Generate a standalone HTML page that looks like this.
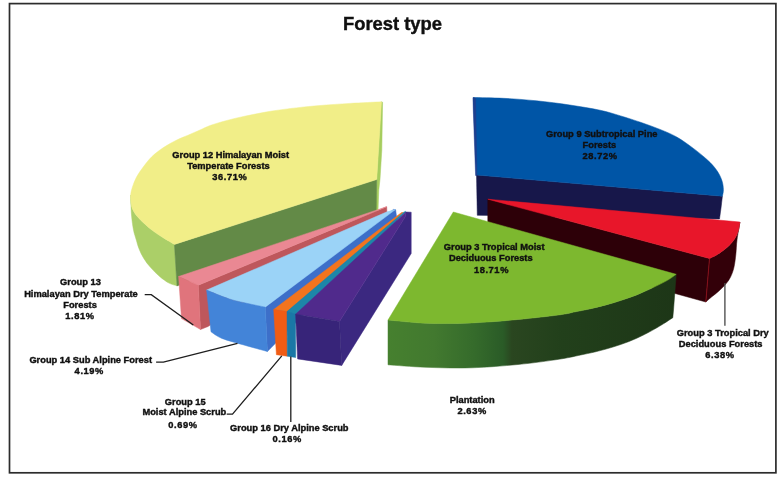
<!DOCTYPE html>
<html><head><meta charset="utf-8"><title>Forest type</title>
<style>
html,body{margin:0;padding:0;background:#fff;width:782px;height:479px;overflow:hidden}
svg{position:absolute;left:0;top:0;display:block;filter:blur(0.35px)}
polygon,path{stroke-width:0.5px;stroke-linejoin:round}
text{font-family:"Liberation Sans",sans-serif;font-weight:bold;fill:#101010;stroke:#101010;stroke-width:0.4px}
</style></head><body>
<svg width="782" height="479" viewBox="0 0 782 479">
<defs>
<linearGradient id="gdk" x1="388" y1="0" x2="676" y2="0" gradientUnits="userSpaceOnUse">
<stop offset="0" stop-color="#46802f"/><stop offset="0.16" stop-color="#42792f"/><stop offset="0.3" stop-color="#356b2b"/><stop offset="0.4" stop-color="#2a5b27"/><stop offset="0.43" stop-color="#2a4620"/><stop offset="0.6" stop-color="#22401b"/><stop offset="1" stop-color="#1d3617"/>
</linearGradient>
</defs>
<rect x="9.5" y="3.6" width="766.4" height="469.2" fill="none" stroke="#2c2c2c" stroke-width="1.7"/>
<polygon points="381.2,101.8 382.6,102.2 381.8,150.0 380.0,179.3 378.8,190.0 378.0,211.0 375.8,211.0 376.7,179.5" fill="#a6cd5e" stroke="#a6cd5e"/>
<path d="M174.4,244.4 L177.0,285.9 C175.7,285.4 171.8,284.6 169.0,283.1 C166.2,281.6 163.0,279.3 159.9,276.7 C156.8,274.1 153.4,270.7 150.7,267.6 C148.0,264.6 145.7,261.5 143.8,258.4 C141.9,255.3 140.4,252.3 139.2,249.2 C137.9,246.1 137.2,243.2 136.3,240.0 C135.4,236.8 134.3,234.2 133.5,230.0 C132.7,225.8 132.0,220.8 131.5,215.0 C131.0,209.2 130.8,198.3 130.7,195.0 C130.8,196.5 130.9,201.7 131.3,204.2 C131.7,206.7 131.9,207.8 133.0,209.9 C134.1,212.0 135.7,214.5 137.6,216.8 C139.5,219.1 142.0,221.4 144.5,223.7 C147.0,226.0 149.5,228.3 152.6,230.6 C155.7,232.9 159.3,235.2 162.9,237.5 C166.5,239.8 172.5,243.2 174.4,244.4 Z" fill="#abcf68" stroke="#abcf68"/>
<polygon points="174.4,244.4 376.7,179.5 376.2,212.0 177.0,285.9" fill="#638a47" stroke="#638a47"/>
<path d="M376.7,179.5 L381.5,101.8 C376.2,102.1 360.2,102.8 350.0,103.4 C339.8,104.0 328.3,104.8 320.0,105.5 C311.7,106.2 305.4,106.8 300.0,107.4 C294.6,108.0 292.0,108.3 287.4,108.9 C282.8,109.5 277.2,110.2 272.1,111.0 C267.0,111.8 261.8,112.8 256.7,113.8 C251.6,114.8 246.5,115.8 241.4,116.9 C236.3,118.1 231.1,119.3 226.0,120.7 C220.9,122.1 215.0,123.8 210.7,125.3 C206.4,126.8 203.7,128.4 200.0,130.0 C196.3,131.6 192.4,133.3 188.5,135.0 C184.6,136.7 181.0,137.9 176.8,140.0 C172.6,142.1 167.6,144.8 163.4,147.6 C159.2,150.4 155.0,153.6 151.7,156.8 C148.4,160.0 145.9,163.5 143.4,166.8 C140.9,170.1 138.5,173.5 136.7,176.8 C134.9,180.1 133.5,183.8 132.5,186.8 C131.5,189.8 130.9,192.1 130.7,195.0 C130.5,197.9 130.9,201.7 131.3,204.2 C131.7,206.7 131.9,207.8 133.0,209.9 C134.1,212.0 135.7,214.5 137.6,216.8 C139.5,219.1 142.0,221.4 144.5,223.7 C147.0,226.0 149.5,228.3 152.6,230.6 C155.7,232.9 159.3,235.2 162.9,237.5 C166.5,239.8 172.5,243.2 174.4,244.4 Z" fill="#f1ee88" stroke="#f1ee88"/>
<polygon points="476.5,175.0 722.4,196.2 721.0,208.0 719.5,219.0 477.3,215.3" fill="#17174a" stroke="#17174a"/>
<path d="M476.5,175.0 L473.3,97.5 C478.3,97.6 492.8,97.8 503.3,98.3 C513.8,98.8 525.4,99.7 536.5,100.8 C547.6,101.9 559.2,103.4 569.8,105.0 C580.4,106.6 591.5,108.4 600.0,110.2 C608.5,112.0 613.8,113.9 620.7,115.9 C627.6,118.0 634.7,120.2 641.2,122.5 C647.8,124.8 654.1,127.0 660.0,129.4 C665.9,131.8 671.1,133.8 676.7,137.0 C682.3,140.2 688.3,144.6 693.4,148.4 C698.5,152.2 703.6,156.4 707.5,160.0 C711.4,163.6 714.1,166.6 716.5,170.0 C718.9,173.4 720.8,177.2 721.9,180.5 C723.0,183.8 723.3,186.9 723.4,189.5 C723.5,192.1 722.6,195.1 722.4,196.2 Z" fill="#0055a6" stroke="#0055a6"/>
<polygon points="473.0,97.6 475.6,98.2 476.9,175.5 475.6,175.5 473.3,110.0" fill="#1e3f8e" stroke="#1e3f8e"/>
<polygon points="487.8,199.2 709.5,258.5 705.8,302.0 487.8,241.6" fill="#2d0008" stroke="#2d0008"/>
<path d="M739.9,222.0 C739.6,223.4 739.2,227.7 738.4,230.4 C737.6,233.2 736.4,236.0 734.9,238.5 C733.4,241.0 731.3,243.3 729.2,245.4 C727.1,247.5 724.4,249.6 722.2,251.2 C720.0,252.8 718.3,254.0 716.2,255.2 C714.1,256.4 710.6,257.9 709.5,258.5 L705.8,302.0 C706.8,301.1 709.6,298.6 711.8,296.8 C713.9,295.0 716.4,293.3 718.7,291.2 C721.0,289.1 723.7,286.6 725.6,284.3 C727.5,282.0 729.0,280.1 730.4,277.3 C731.8,274.5 733.0,271.5 733.9,267.6 C734.8,263.7 735.4,258.4 735.9,253.8 C736.4,249.2 736.3,245.3 737.0,240.0 C737.7,234.7 739.4,225.0 739.9,222.0 Z" fill="#330009" stroke="#330009"/>
<line x1="709.5" y1="258.5" x2="705.8" y2="302" stroke="#9a0f1a" stroke-width="0.8"/>
<path d="M487.8,199.2 L739.9,222.0 C739.6,223.4 739.2,227.7 738.4,230.4 C737.6,233.2 736.4,236.0 734.9,238.5 C733.4,241.0 731.3,243.3 729.2,245.4 C727.1,247.5 724.4,249.6 722.2,251.2 C720.0,252.8 718.3,254.0 716.2,255.2 C714.1,256.4 710.6,257.9 709.5,258.5 Z" fill="#e8162a" stroke="#e8162a"/>
<path d="M388.0,320.0 L388.0,364.8 C394.3,365.2 412.0,366.8 426.0,367.3 C440.0,367.8 456.7,368.3 472.0,367.8 C487.3,367.3 503.3,365.9 518.0,364.5 C532.7,363.1 549.2,360.8 560.0,359.1 C570.8,357.4 576.6,355.8 583.0,354.5 C589.4,353.2 593.3,352.4 598.4,351.1 C603.5,349.8 608.6,348.4 613.7,346.8 C618.8,345.2 623.9,343.5 629.0,341.5 C634.1,339.5 639.3,337.2 644.4,334.6 C649.5,332.0 655.0,328.9 659.7,326.1 C664.4,323.3 670.6,319.1 672.8,317.7 L673.5,310.0 L676.2,274.3 C674.7,275.3 671.4,278.0 667.4,280.3 C663.4,282.6 657.2,285.6 652.1,288.0 C647.0,290.4 641.8,292.8 636.7,294.9 C631.6,296.9 626.5,298.6 621.4,300.3 C616.3,302.0 611.1,303.5 606.0,304.9 C600.9,306.3 595.8,307.5 590.7,308.7 C585.6,309.9 580.4,310.8 575.3,311.8 C570.2,312.8 569.5,313.5 560.0,314.8 C550.5,316.1 532.7,318.1 518.0,319.5 C503.3,320.9 487.3,322.3 472.0,322.9 C456.7,323.5 440.0,323.7 426.0,323.2 C412.0,322.7 394.3,320.5 388.0,320.0 Z" fill="url(#gdk)" stroke="url(#gdk)"/>
<path d="M453.3,212.0 L676.2,274.3 C674.7,275.3 671.4,278.0 667.4,280.3 C663.4,282.6 657.2,285.6 652.1,288.0 C647.0,290.4 641.8,292.8 636.7,294.9 C631.6,296.9 626.5,298.6 621.4,300.3 C616.3,302.0 611.1,303.5 606.0,304.9 C600.9,306.3 595.8,307.5 590.7,308.7 C585.6,309.9 580.4,310.8 575.3,311.8 C570.2,312.8 569.5,313.5 560.0,314.8 C550.5,316.1 532.7,318.1 518.0,319.5 C503.3,320.9 487.3,322.3 472.0,322.9 C456.7,323.5 440.0,323.7 426.0,323.2 C412.0,322.7 394.3,320.5 388.0,320.0 Z" fill="#7db82f" stroke="#7db82f"/>
<polygon points="198.3,285.2 386.7,206.7 386.9,212.8 208.0,326.5 200.5,329.5" fill="#be575c" stroke="#be575c"/>
<polygon points="178.6,276.5 386.7,206.7 198.3,285.2" fill="#ea8893" stroke="#ea8893"/>
<polygon points="178.6,276.5 198.3,285.2 200.5,329.5 181.5,318.6" fill="#e0747c" stroke="#e0747c"/>
<polygon points="265.3,307.1 393.5,209.4 395.6,209.6 397.0,220.0 267.4,351.5" fill="#3d6fc9" stroke="#3d6fc9"/>
<path d="M206.6,290.1 L387.0,211.8 L395.4,209.6 L265.3,307.1 C262.2,306.5 252.8,304.7 246.8,303.3 C240.8,301.9 235.9,301.1 229.2,298.9 C222.5,296.7 210.4,291.6 206.6,290.1 Z" fill="#9bd3f7" stroke="#9bd3f7"/>
<path d="M206.6,290.1 C210.4,291.6 222.5,296.7 229.2,298.9 C235.9,301.1 240.8,301.9 246.8,303.3 C252.8,304.7 262.2,306.5 265.3,307.1 L267.4,351.5 C263.5,350.4 251.5,347.2 243.9,345.0 C236.3,342.8 227.4,340.6 221.9,338.4 C216.4,336.2 212.8,332.9 211.0,331.8 Z" fill="#4384d8" stroke="#4384d8"/>
<polygon points="273.7,309.5 401.5,212.6 403.5,212.4 287.0,311.6" fill="#f2741e" stroke="#f2741e"/>
<polygon points="273.7,309.5 287.0,311.6 287.3,356.2 276.4,354.7" fill="#f05c14" stroke="#f05c14"/>
<polygon points="287.0,311.6 403.5,212.4 405.4,211.3 406.0,212.0 295.6,314.2" fill="#1d86a8" stroke="#1d86a8"/>
<polygon points="287.0,311.6 295.6,314.2 295.7,357.5 287.3,356.2" fill="#1a78a6" stroke="#1a78a6"/>
<polygon points="339.5,321.5 405.6,216.3 406.0,212.0 411.2,212.2 411.2,253.5 341.7,365.4" fill="#3b2880" stroke="#3b2880"/>
<polygon points="295.6,314.2 406.0,212.0 405.6,216.3 339.5,321.5" fill="#502a8c" stroke="#502a8c"/>
<polygon points="295.6,314.2 339.5,321.5 341.7,365.4 297.6,358.9" fill="#372479" stroke="#372479"/>
<g fill="none" stroke="#1e1e1e" stroke-width="1.3">
<polyline points="144.7,294.6 151.3,294.6 193.3,325"/>
<polyline points="156.1,362.2 163.4,362.2 237.5,343.3"/>
<polyline points="226.7,414.2 232.5,414.2 281.8,355.9"/>
<polyline points="290.8,356.5 290.8,422"/>
</g>
<line x1="724.9" y1="283" x2="724.9" y2="325.8" stroke="#4c4c4c" stroke-width="1.35"/>
<text x="392.5" y="29.6" font-size="18.4" text-anchor="middle">Forest type</text>
<g font-size="9.3" text-anchor="middle">
<text x="230.75" y="157.6">Group 12 Himalayan Moist</text>
<text x="228.45" y="169">Temperate Forests</text>
<text x="229.9" y="180" letter-spacing="0.6">36.71%</text>
<text x="601.7" y="136.6">Group 9 Subtropical Pine</text>
<text x="599.4" y="147.9">Forests</text>
<text x="600.0999999999999" y="159" letter-spacing="0.6">28.72%</text>
<text x="494.15" y="249.7">Group 3 Tropical Moist</text>
<text x="490.8" y="261.4">Deciduous Forests</text>
<text x="491.45" y="273.4" letter-spacing="0.6">18.71%</text>
<text x="722.75" y="335.6">Group 3 Tropical Dry</text>
<text x="720.65" y="346.5">Deciduous Forests</text>
<text x="720.0" y="357.7" letter-spacing="0.6">6.38%</text>
<text x="80.5" y="285.4">Group 13</text>
<text x="80.9" y="296.7">Himalayan Dry Temperate</text>
<text x="80.05" y="307.9">Forests</text>
<text x="79.89999999999999" y="318.5" letter-spacing="0.6">1.81%</text>
<text x="90.7" y="362.7">Group 14 Sub Alpine Forest</text>
<text x="89.3" y="374" letter-spacing="0.6">4.19%</text>
<text x="185.25" y="404.6">Group 15</text>
<text x="184.35" y="415.3">Moist Alpine Scrub</text>
<text x="182.95000000000002" y="427.6" letter-spacing="0.6">0.69%</text>
<text x="289.3" y="431.3">Group 16 Dry Alpine Scrub</text>
<text x="287.15000000000003" y="442" letter-spacing="0.6">0.16%</text>
<text x="472.2" y="403">Plantation</text>
<text x="472.1" y="413.5" letter-spacing="0.6">2.63%</text>
</g>
</svg>
</body></html>
